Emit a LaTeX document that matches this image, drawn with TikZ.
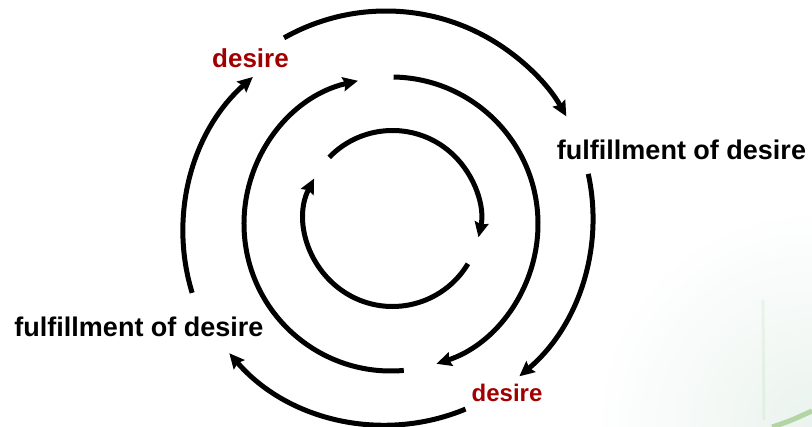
\documentclass[tikz,border=0pt]{standalone}
\usepackage{fontspec}
\setmainfont{Liberation Sans}
\usetikzlibrary{arrows.meta}
\definecolor{desirered}{RGB}{160,0,0}
\definecolor{cornertint}{RGB}{234,243,238}
\definecolor{leafgreen}{RGB}{165,205,145}
\tikzset{
  cyc/.style={line width=5pt, -{Stealth[length=15pt,width=14pt,inset=2pt]}},
  lbl/.style={font=\bfseries\fontsize{27}{30}\selectfont, inner sep=0pt},
  wish/.style={lbl, text=desirered, font=\bfseries\fontsize{26}{30}\selectfont}
}
\begin{document}
\begin{tikzpicture}[x=1pt,y=1pt]
  \useasboundingbox (0,0) rectangle (812,427);
  % faint tint in the corner
  \begin{scope}
    \clip (0,0) rectangle (812,427);
    \shade[inner color=cornertint, outer color=white] (812,0) circle (220);
    \draw[line width=3pt, leafgreen, opacity=0.15] (764,7) -- (763,127);
    \draw[line width=5pt, leafgreen, opacity=0.8] (772,0) .. controls (790,6) .. (812,16);
  \end{scope}
  % centres of the three rings
  \coordinate (co) at (386,209);
  \coordinate (cl) at (390,195);
  \coordinate (cm) at (391,203);
  \coordinate (ci) at (392.5,208.5);
  % outer ring
  \draw[cyc] ([shift={(119.5:207pt)}]co) arc[start angle=119.5, end angle=29.4, radius=207pt];
  \draw[cyc] ([shift={(12.3:207pt)}]co) arc[start angle=12.3, end angle=-49.9, radius=207pt];
  \draw[cyc] ([shift={(-67.4:207pt)}]co) arc[start angle=-67.4, end angle=-139.2, radius=207pt];
  \draw[cyc] ([shift={(197.1:207pt)}]cl) arc[start angle=197.1, end angle=131.5, radius=207pt];
  % middle ring
  \draw[cyc] ([shift={(89:147pt)}]cm) arc[start angle=89, end angle=-72, radius=147pt];
  \draw[cyc] ([shift={(275:147pt)}]cm) arc[start angle=275, end angle=103, radius=147pt];
  % inner ring
  \draw[cyc] ([shift={(136:88pt)}]ci) arc[start angle=136, end angle=-12.3, radius=88pt];
  \draw[cyc] ([shift={(329:88pt)}]ci) arc[start angle=329, end angle=153, radius=88pt];
  % labels
  \node[wish] (dtop) at (250.5,369) {desire};
  \node[lbl] (fright) at (681.5,277) {fulfillment of desire};
  \node[lbl] (fleft) at (139,100) {fulfillment of desire};
  \node[wish, font=\bfseries\fontsize{24}{28}\selectfont] (dbot) at (507,34) {desire};
\end{tikzpicture}
\end{document}
